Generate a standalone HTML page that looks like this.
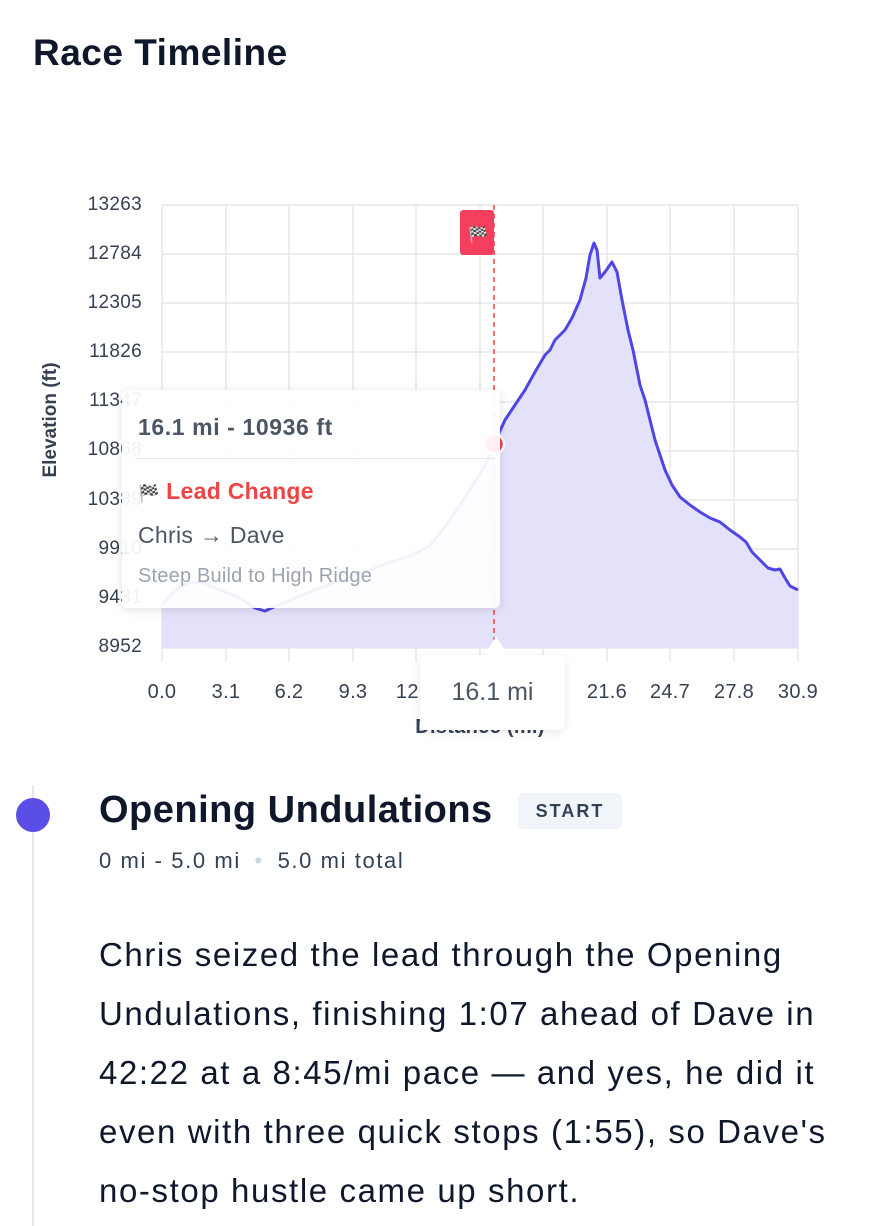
<!DOCTYPE html>
<html><head><meta charset="utf-8"><style>
*{margin:0;padding:0;box-sizing:border-box}
body{width:870px;height:1226px;background:#fff;font-family:"Liberation Sans",sans-serif;position:relative;overflow:hidden;color:#0f172a}
.a{position:absolute;white-space:nowrap}
</style></head><body>
<div class="a" style="left:33px;top:32px;font-size:37px;font-weight:bold;color:#0f172a;letter-spacing:0.5px">Race Timeline</div>
<svg class="a" style="left:0;top:0" width="870" height="760">
<g font-family="Liberation Sans" font-size="19" fill="#374151" text-anchor="end" letter-spacing="0.3">
<text x="142" y="210">13263</text><text x="142" y="259">12784</text><text x="142" y="308">12305</text><text x="142" y="357">11826</text><text x="142" y="406">11347</text><text x="142" y="455">10868</text><text x="142" y="505">10389</text><text x="142" y="554">9910</text><text x="142" y="603">9431</text><text x="142" y="652">8952</text>
</g>
<g stroke="#e5e7eb" stroke-width="1.5">
<line x1="162" y1="205" x2="798" y2="205"/><line x1="162" y1="254" x2="798" y2="254"/><line x1="162" y1="303" x2="798" y2="303"/><line x1="162" y1="352" x2="798" y2="352"/><line x1="162" y1="402" x2="798" y2="402"/><line x1="162" y1="451" x2="798" y2="451"/><line x1="162" y1="500" x2="798" y2="500"/><line x1="162" y1="549" x2="798" y2="549"/><line x1="162" y1="598" x2="798" y2="598"/><line x1="162" y1="648" x2="798" y2="648"/>
<line x1="162" y1="205" x2="162" y2="662"/><line x1="226" y1="205" x2="226" y2="662"/><line x1="289" y1="205" x2="289" y2="662"/><line x1="353" y1="205" x2="353" y2="662"/><line x1="416" y1="205" x2="416" y2="662"/><line x1="480" y1="205" x2="480" y2="662"/><line x1="543" y1="205" x2="543" y2="662"/><line x1="607" y1="205" x2="607" y2="662"/><line x1="670" y1="205" x2="670" y2="662"/><line x1="734" y1="205" x2="734" y2="662"/><line x1="798" y1="205" x2="798" y2="662"/>
</g>
<path d="M162,605 L175,590 L190,582 L205,583 L220,590 L240,598 L255,608 L265,611 L278,605 L295,598 L315,590 L340,580 L365,572 L390,562 L410,556 L430,546 L450,520 L470,490 L485,465 L494,444 L505,420 L515,405 L525,390 L535,372 L545,355 L550,350 L555,340 L565,330 L572,318 L580,300 L586,278 L590,255 L594,243 L597,250 L600,278 L605,272 L612,262 L617,272 L622,300 L628,330 L633,350 L640,385 L645,400 L650,420 L655,440 L660,455 L665,470 L672,485 L680,497 L690,505 L700,512 L710,518 L720,522 L730,530 L740,537 L746,542 L752,552 L760,560 L768,568 L775,570 L780,569 L785,578 L790,586 L798,590 L798,648 L162,648 Z" fill="#e4e2fa"/>
<path d="M162,605 L175,590 L190,582 L205,583 L220,590 L240,598 L255,608 L265,611 L278,605 L295,598 L315,590 L340,580 L365,572 L390,562 L410,556 L430,546 L450,520 L470,490 L485,465 L494,444 L505,420 L515,405 L525,390 L535,372 L545,355 L550,350 L555,340 L565,330 L572,318 L580,300 L586,278 L590,255 L594,243 L597,250 L600,278 L605,272 L612,262 L617,272 L622,300 L628,330 L633,350 L640,385 L645,400 L650,420 L655,440 L660,455 L665,470 L672,485 L680,497 L690,505 L700,512 L710,518 L720,522 L730,530 L740,537 L746,542 L752,552 L760,560 L768,568 L775,570 L780,569 L785,578 L790,586 L798,590" fill="none" stroke="#4f46e5" stroke-width="3" stroke-linejoin="round"/>
<line x1="494" y1="205" x2="494" y2="648" stroke="#ef4444" stroke-width="1.5" stroke-dasharray="5,4"/>
<rect x="460" y="210" width="34" height="45" rx="3" fill="#f43f5e"/>
<text x="478" y="240" font-size="16" text-anchor="middle">🏁</text>
<circle cx="494" cy="444" r="10" fill="#f43f5e" stroke="#fff" stroke-width="2.5"/>
<g font-family="Liberation Sans" font-size="20" fill="#374151" text-anchor="middle" letter-spacing="0.3">
<text x="162" y="698">0.0</text><text x="226" y="698">3.1</text><text x="289" y="698">6.2</text><text x="353" y="698">9.3</text><text x="416" y="698">12.4</text><text x="543" y="698">18.5</text><text x="607" y="698">21.6</text><text x="670" y="698">24.7</text><text x="734" y="698">27.8</text><text x="798" y="698">30.9</text>
<text x="480" y="733" font-weight="bold" font-size="20">Distance (mi)</text>
</g>
<text x="56" y="420" font-family="Liberation Sans" font-size="19" font-weight="bold" fill="#374151" text-anchor="middle" transform="rotate(-90 56 420)">Elevation (ft)</text>
</svg>
<div class="a" style="left:122px;top:390px;width:378px;height:218px;background:rgba(255,255,255,0.93);border-radius:6px;box-shadow:0 2px 10px rgba(0,0,0,0.12)">
<div class="a" style="left:16px;top:24px;font-size:23px;font-weight:bold;color:#4b5563;letter-spacing:0.6px">16.1 mi - 10936 ft</div>
<div class="a" style="left:13px;top:68px;width:360px;border-top:1.5px solid #e5e7eb"></div>
<div class="a" style="left:16px;top:88px;font-size:23px;font-weight:bold;color:#ef4444;letter-spacing:0.3px"><span style="font-size:17px">🏁</span> Lead Change</div>
<div class="a" style="left:16px;top:132px;font-size:23px;color:#4b5563;letter-spacing:0.3px">Chris → Dave</div>
<div class="a" style="left:16px;top:175px;font-size:20px;color:#9ca3af;letter-spacing:0.2px">Steep Build to High Ridge</div>
</div>
<div class="a" style="left:420px;top:655px;width:145px;height:75px;background:#fff;border-radius:6px;box-shadow:0 2px 8px rgba(0,0,0,0.1)"><div class="a" style="left:0;top:23px;width:145px;text-align:center;font-size:25px;color:#4b5563">16.1 mi</div></div>
<div class="a" style="left:484px;top:636px;width:0;height:0;border-left:12px solid transparent;border-right:12px solid transparent;border-bottom:20px solid #fff"></div>
<div class="a" style="left:32px;top:785px;width:2px;height:441px;background:#e5e7eb"></div>
<div class="a" style="left:16px;top:798px;width:34px;height:34px;border-radius:50%;background:#5b4ee6"></div>
<div class="a" style="left:99px;top:789px;font-size:38px;font-weight:bold;color:#0f172a;letter-spacing:0.5px">Opening Undulations</div>
<div class="a" style="left:518px;top:793px;width:104px;height:36px;background:#f1f5f9;border-radius:5px;font-size:18px;font-weight:bold;color:#334155;letter-spacing:2px;text-align:center;line-height:36px">START</div>
<div class="a" style="left:99px;top:848px;font-size:22px;color:#334155;letter-spacing:1.6px">0 mi - 5.0 mi <span style="color:#cbd5e1;margin:0 6px">•</span> 5.0 mi total</div>
<div class="a" style="left:99px;top:925px;width:750px;white-space:normal;font-size:33px;line-height:59px;color:#0f172a;letter-spacing:1.6px">Chris seized the lead through the Opening Undulations, finishing 1:07 ahead of Dave in 42:22 at a 8:45/mi pace — and yes, he did it even with three quick stops (1:55), so Dave's no-stop hustle came up short.</div>
</body></html>
